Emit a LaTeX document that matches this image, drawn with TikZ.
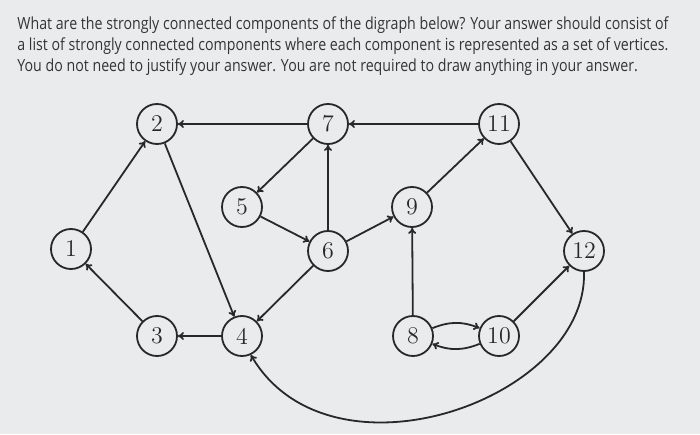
\documentclass[tikz,border=0pt]{standalone}
\usepackage{fontspec}
\usepackage{tikz}
\usepackage{xcolor}
\usetikzlibrary{arrows.meta}
\newfontfamily\qfont[FakeStretch=0.85]{Open Sans}
\definecolor{Paper}{RGB}{233,235,236}
\definecolor{Ink}{RGB}{40,40,40}
\definecolor{TextInk}{RGB}{50,52,54}

\tikzset{
  vtx/.style={draw=Ink, circle, line width=0.9pt, minimum size=20pt, inner sep=0pt, font=\large, text=Ink},
  arr/.style={-{To[length=3pt,width=4pt]}, line width=0.9pt, draw=Ink},
}

\begin{document}
\begin{tikzpicture}[x=0.5pt,y=0.5pt]
      \fill[Paper] (0,0) rectangle (700,434);
      \useasboundingbox (0,0) rectangle (700,434);
      \node[anchor=north west, align=left, inner sep=0pt, text=TextInk,
            font=\qfont\fontsize{8.35}{10.6}\selectfont] (question) at (17,418)
        {What are the strongly connected components of the digraph below? Your answer should consist of\\
         a list of strongly connected components where each component is represented as a set of vertices.\\
         You do not need to justify your answer. You are not required to draw anything in your answer.};
      % vertices
      \foreach \n/\x/\y in {1/71/185,2/157/310,3/157/98,4/242/98,5/242/227,6/328/183,
                           7/328/310,8/413/98,9/412/227,10/499/98,11/499/310,12/584/183} {
        \node[vtx] (n\n) at (\x,\y) {\n};
      }
      % edges
      \draw[arr] (n1) -- (n2);
      \draw[arr] (n3) -- (n1);
      \draw[arr] (n2) -- (n4);
      \draw[arr] (n7) -- (n2);
      \draw[arr] (n11) -- (n7);
      \draw[arr] (n7) -- (n5);
      \draw[arr] (n5) -- (n6);
      \draw[arr] (n6) -- (n7);
      \draw[arr] (n6) -- (n9);
      \draw[arr] (n6) -- (n4);
      \draw[arr] (n4) -- (n3);
      \draw[arr] (n8) -- (n9);
      \draw[arr] (n9) -- (n11);
      \draw[arr] (n11) -- (n12);
      \draw[arr] (n10) -- (n12);
      \draw[arr] (n8) to[bend left=22] (n10);
      \draw[arr] (n10) to[bend left=22] (n8);
      \draw[arr] (n12.south) .. controls (588,34) and (330,-56) .. (n4.-65);
    \end{tikzpicture}
\end{document}
